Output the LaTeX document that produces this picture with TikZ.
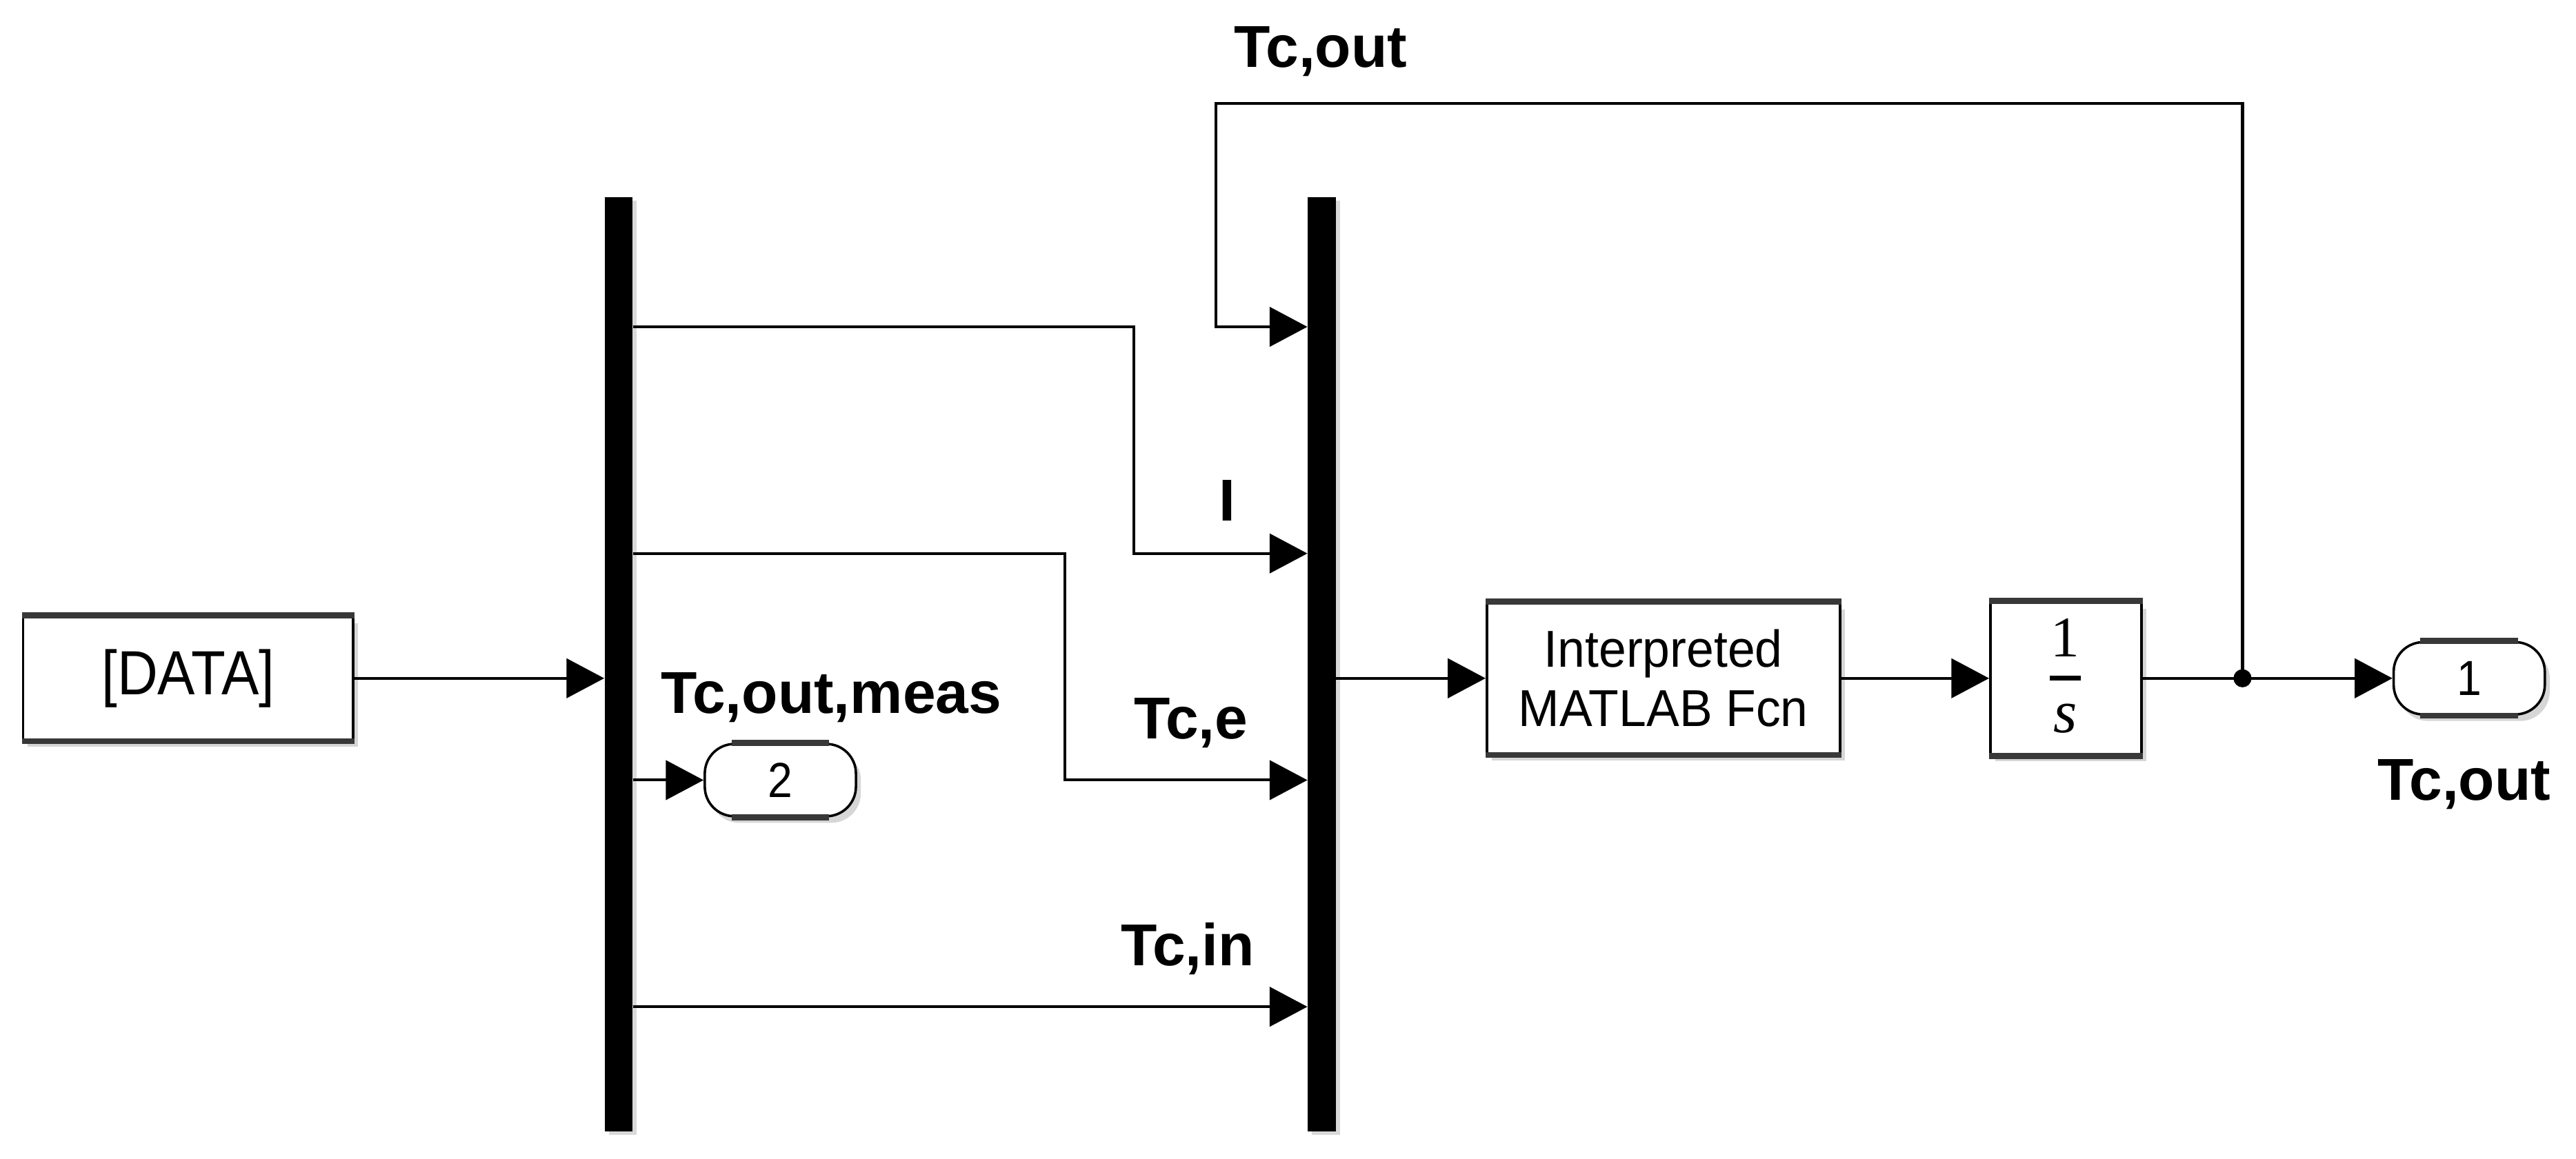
\documentclass[tikz,border=0pt]{standalone}
\usepackage{fontspec}
\setmainfont{Liberation Sans}
\newfontfamily\condfont[FakeStretch=0.9]{Liberation Sans}
\newfontfamily\fcnfont[FakeStretch=0.95]{Liberation Sans}
\newfontfamily\tnrfont{Liberation Serif}
\usetikzlibrary{arrows.meta,shadows,calc}
\begin{document}
\begin{tikzpicture}[x=1pt,y=-1pt,
  sig/.style={line width=1.7pt,-{Triangle[length=23pt,width=24pt]}},
  blk/.style={draw,line width=1.5pt,fill=white,inner sep=0pt,
    drop shadow={shadow xshift=3pt,shadow yshift=-4pt,fill=black!16,opacity=1}},
  edgeline/.style={line width=3.6pt,draw=black!78},
  port/.style={blk,rounded corners=18pt,minimum width=92pt,minimum height=44pt,
    font=\condfont\fontsize{30}{32}\selectfont},
  barblk/.style={fill=black,inner sep=0pt,minimum width=17pt,minimum height=569pt,
    drop shadow={shadow xshift=2.5pt,shadow yshift=-2pt,fill=black!15,opacity=1}},
  lbl/.style={inner sep=0pt,font=\bfseries\fontsize{36}{40}\selectfont},
  ]
\path[use as bounding box,fill=white] (0,0) rectangle (1568,705.7);

% rows
\coordinate (r1) at (0,199);
\coordinate (r2) at (0,337);
\coordinate (r3) at (0,475);
\coordinate (r4) at (0,613);

% blocks
\node[blk,minimum width=201pt,minimum height=75pt,
  font=\condfont\fontsize{38}{40}\selectfont] (data) at (114.5,413) {[DATA]};
\node[barblk] (bar1) at (376.5,404.5) {};
\node[barblk] (bar2) at (804.5,404.5) {};
\node[blk,minimum width=215pt,minimum height=92pt,align=center,
  font=\fcnfont\fontsize{31.6}{36}\selectfont] (fcn) at (1012.5,413)
  {Interpreted\\MATLAB Fcn};
\node[blk,minimum width=92pt,minimum height=93pt] (integ) at (1257.5,413) {};
\node[port] (out1) at (1503,413) {1};
\node[port] (out2) at (475,475) {2};

% dark top/bottom edges of blocks
\foreach \b in {data,fcn,integ}{
  \draw[edgeline] (\b.north west) -- (\b.north east);
  \draw[edgeline] (\b.south west) -- (\b.south east);
}
\foreach \b in {out1,out2}{
  \draw[edgeline] ($(\b.north west)+(17,0)$) -- ($(\b.north east)+(-17,0)$);
  \draw[edgeline] ($(\b.south west)+(17,0)$) -- ($(\b.south east)+(-17,0)$);
}

% integrator 1/s
\node[inner sep=0pt,anchor=base,font=\tnrfont\fontsize{35}{38}\selectfont] (num) at (1257,400) {1};
\fill (1247.5,411.6) rectangle (1266.5,414.4);
\node[inner sep=0pt,anchor=base,font=\tnrfont\itshape\fontsize{37}{40}\selectfont] (den) at (1257,446) {s};

% junction
\coordinate (jn) at (1365,413);

% connectors
\draw[sig] (data.east) -- (data.east -| bar1.west);
\draw[sig] (bar1.east |- r1) -- (690,199) |- (bar2.west |- r2);
\draw[sig] (bar1.east |- r2) -- (648,337) |- (bar2.west |- r3);
\draw[sig] (bar1.east |- r4) -- (bar2.west |- r4);
\draw[sig] (bar1.east |- r3) -- (out2.west);
\draw[sig] (bar2.east |- fcn.west) -- (fcn.west);
\draw[sig] (fcn.east) -- (integ.west);
\draw[sig] (integ.east) -- (out1.west);
\draw[sig] (jn) |- (740,63) |- (bar2.west |- r1);
\fill (jn) circle (5.5pt);

% labels
\node[lbl,anchor=base west] (lTop) at (751,41) {Tc,out};
\node[lbl,anchor=base west] (lMeas) at (402,434.5) {Tc,out,meas};
\node[lbl,anchor=base] (lI) at (747,317) {I};
\node[lbl,anchor=base west] (lTce) at (690,450) {Tc,e};
\node[lbl,anchor=base west] (lTcin) at (682,588) {Tc,in};
\node[lbl,anchor=base west] (lOut) at (1447,487) {Tc,out};
\end{tikzpicture}
\end{document}
